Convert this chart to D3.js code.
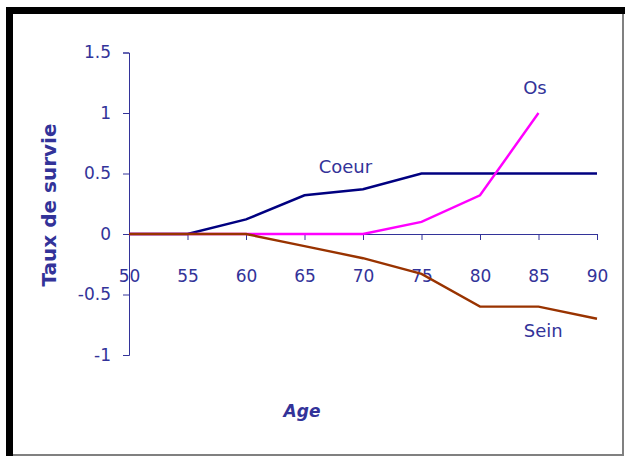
<!DOCTYPE html>
<html>
<head>
<meta charset="utf-8">
<script src="https://cdn.jsdelivr.net/npm/d3@7"></script>
<style>
    body { margin: 0; background: #fff; }
    svg { display: block; }
</style>
</head>
<body>
<svg id="mysvg" xmlns="http://www.w3.org/2000/svg" width="625" height="456" viewBox="0 0 625 456"></svg>
<script>
// data
const ages = [50, 55, 60, 65, 70, 75, 80, 85, 90];
const coeur = [0, 0, 0.12, 0.32, 0.37, 0.5, 0.5, 0.5, 0.5];
const os = [0, 0, 0, 0, 0, 0.1, 0.32, 1.0, null];
const sein = [0, 0, 0, -0.1, -0.2, -0.33, -0.6, -0.6, -0.7];
const yTicks = [-1, -0.5, 0, 0.5, 1, 1.5];
const seriesNames = ['Coeur', 'Os', 'Sein'];

function drawChart() {
    const
        svg = d3.select('#mysvg'),
        navy = '#333399',
        font = '"DejaVu Sans", Verdana, sans-serif';

    // frame
    svg.append('rect').attr('x', 6).attr('y', 7).attr('width', 618).attr('height', 448)
        .attr('fill', '#fff');
    svg.append('rect').attr('x', 6).attr('y', 7).attr('width', 7).attr('height', 449).attr('fill', '#000');
    svg.append('rect').attr('x', 6).attr('y', 7).attr('width', 619).attr('height', 7).attr('fill', '#000');
    svg.append('rect').attr('x', 622).attr('y', 14).attr('width', 2).attr('height', 442).attr('fill', '#808080');
    svg.append('rect').attr('x', 13).attr('y', 454).attr('width', 611).attr('height', 2).attr('fill', '#808080');

    // scales
    const
        x = d3.scaleLinear().domain([50, 90]).range([129, 597]),
        y = d3.scaleLinear().domain([-1, 1.5]).range([355, 52.5]);

    // y axis
    const yAxis = svg.append('g')
        .attr('transform', `translate(${x(50)},0)`)
        .call(d3.axisLeft(y).tickValues(yTicks).tickSize(6).tickPadding(12)
            .tickFormat(d => String(d)));
    yAxis.select('.domain').attr('stroke', navy);
    yAxis.selectAll('.tick line').attr('stroke', navy);
    yAxis.selectAll('text').attr('fill', navy).style('font', `17px ${font}`);

    // x axis, crossing at 0
    const xAxis = svg.append('g')
        .attr('transform', `translate(0,${y(0)})`)
        .call(d3.axisBottom(x).tickValues(ages).tickSizeInner(6).tickSizeOuter(0).tickPadding(30)
            .tickFormat(d => String(d)));
    xAxis.select('.domain').attr('stroke', navy);
    xAxis.selectAll('.tick line').attr('stroke', navy);
    xAxis.selectAll('text').attr('fill', navy).style('font', `17px ${font}`);

    // lines
    const series = [
        {name: 'Coeur', values: coeur, color: '#000080'},
        {name: 'Os', values: os, color: '#ff00ff'},
        {name: 'Sein', values: sein, color: '#993300'}
    ];
    const line = d3.line()
        .defined(d => d.v !== null)
        .x(d => x(d.a))
        .y(d => y(d.v));

    series.forEach(s => {
        svg.append('path')
            .datum(ages.map((a, i) => ({a: a, v: s.values[i]})))
            .attr('fill', 'none')
            .attr('stroke', s.color)
            .attr('stroke-width', 2.4)
            .attr('d', line);
    });

    // series labels
    const labelPos = {
        Coeur: {a: 68.5, v: 0.56},
        Os: {a: 84.7, v: 1.21},
        Sein: {a: 85.4, v: -0.8}
    };
    seriesNames.forEach(n => {
        svg.append('text')
            .attr('x', x(labelPos[n].a))
            .attr('y', y(labelPos[n].v))
            .attr('text-anchor', 'middle')
            .attr('dominant-baseline', 'central')
            .attr('fill', navy)
            .style('font', `18px ${font}`)
            .text(n);
    });

    // axis titles
    svg.append('text')
        .attr('transform', 'translate(49,205) rotate(-90)')
        .attr('text-anchor', 'middle')
        .attr('dominant-baseline', 'central')
        .attr('fill', navy)
        .style('font', `bold 20px ${font}`)
        .text('Taux de survie');

    svg.append('text')
        .attr('x', 302)
        .attr('y', 411)
        .attr('text-anchor', 'middle')
        .attr('dominant-baseline', 'central')
        .attr('fill', navy)
        .style('font', `italic bold 17px ${font}`)
        .text('Age');
}

drawChart();
</script>
</body>
</html>
